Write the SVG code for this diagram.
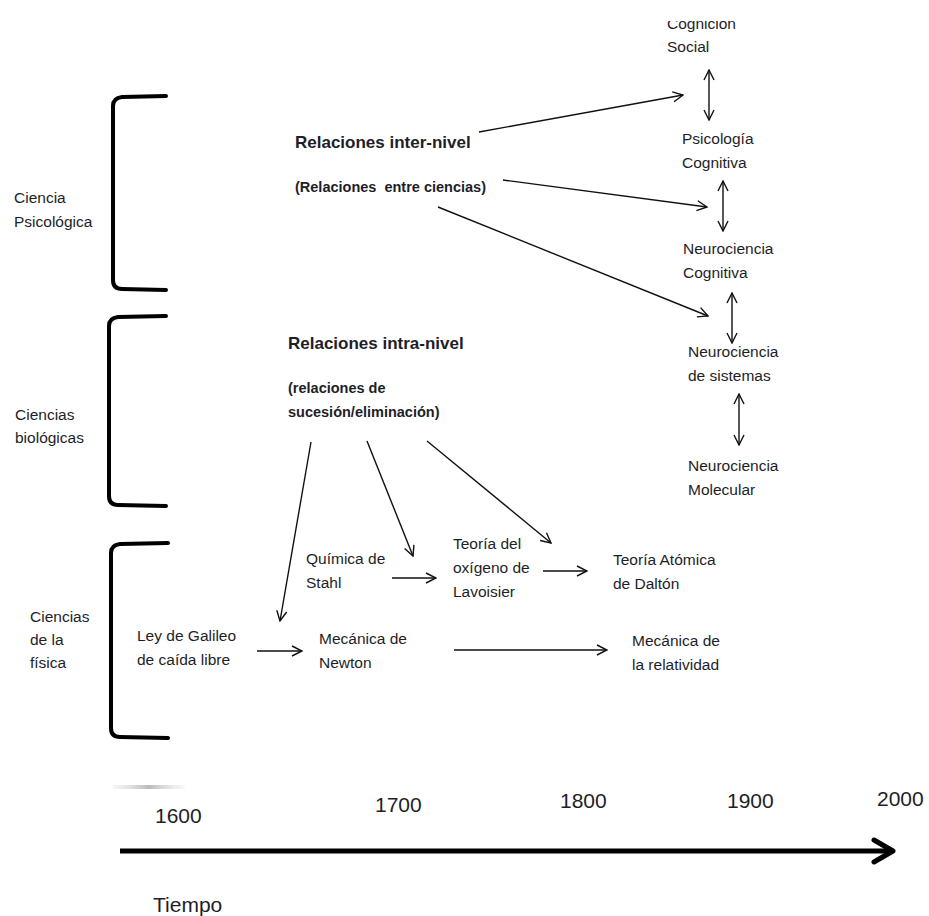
<svg xmlns="http://www.w3.org/2000/svg" width="929" height="916" viewBox="0 0 929 916">
<defs>
<style>
text{font-family:"Liberation Sans","Noto Sans",sans-serif;fill:#1e1e28;font-size:15.5px}
.b{font-weight:bold;font-size:17px}
.bs{font-weight:bold;font-size:14.5px}
.yr{font-size:21px}
.br{fill:none;stroke:#000;stroke-width:4;stroke-linecap:round;stroke-linejoin:round}
.ar{fill:none;stroke:#111;stroke-width:1.4}
</style>
<marker id="a" viewBox="0 0 12 12" refX="11" refY="6" markerWidth="12" markerHeight="12" markerUnits="userSpaceOnUse" orient="auto-start-reverse">
<path d="M1,1 L11,6 L1,11" fill="none" stroke="#111" stroke-width="1.4"/>
</marker>
<marker id="big" viewBox="0 0 26 28" refX="23" refY="14" markerWidth="26" markerHeight="28" markerUnits="userSpaceOnUse" orient="auto">
<path d="M4,3 L23,14 L4,25" fill="none" stroke="#000" stroke-width="5" stroke-linecap="round" stroke-linejoin="round"/>
</marker>
<clipPath id="topclip"><rect x="0" y="21" width="929" height="895"/></clipPath>
<linearGradient id="sh" x1="0" y1="0" x2="1" y2="0">
<stop offset="0" stop-color="#ddd" stop-opacity="0.3"/><stop offset="0.5" stop-color="#bbb"/><stop offset="1" stop-color="#ddd" stop-opacity="0.2"/>
</linearGradient>
</defs>
<rect width="929" height="916" fill="#fff"/>

<g id="brackets">
<path class="br" d="M166,96 L122,97 Q113,98 113,106 L113,280 Q113,289 122,289 L166,290"/>
<path class="br" d="M166,316 L118,317 Q109,318 109,326 L109,496 Q109,505 118,505 L166,506"/>
<path class="br" d="M168,543 L120,544 Q111,545 111,553 L111,728 Q111,737 120,737 L168,738"/>
<rect x="113" y="785" width="72" height="4" fill="url(#sh)"/>
</g>

<g id="lbl-psico"><text x="14" y="203">Ciencia</text><text x="14" y="227">Psicológica</text></g>
<g id="lbl-bio"><text x="15" y="420">Ciencias</text><text x="15" y="443">biológicas</text></g>
<g id="lbl-fis"><text x="30" y="622">Ciencias</text><text x="30" y="645">de la</text><text x="30" y="668">física</text></g>

<g id="inter"><text class="b" x="295" y="148">Relaciones inter-nivel</text><text class="bs" x="295" y="192" xml:space="preserve">(Relaciones  entre ciencias)</text></g>
<g id="intra"><text class="b" x="288" y="349">Relaciones intra-nivel</text><text class="bs" x="288" y="393">(relaciones de</text><text class="bs" x="288" y="417">sucesión/eliminación)</text></g>

<g id="cog-social" clip-path="url(#topclip)"><text x="667" y="29">Cognición</text><text x="667" y="52">Social</text></g>
<g id="psi-cog"><text x="682" y="144">Psicología</text><text x="682" y="168">Cognitiva</text></g>
<g id="neuro-cog"><text x="683" y="254">Neurociencia</text><text x="683" y="278">Cognitiva</text></g>
<g id="neuro-sis"><text x="688" y="357">Neurociencia</text><text x="688" y="381">de sistemas</text></g>
<g id="neuro-mol"><text x="688" y="471">Neurociencia</text><text x="688" y="495">Molecular</text></g>

<g id="stahl"><text x="306" y="564">Química de</text><text x="306" y="588">Stahl</text></g>
<g id="lavoisier"><text x="453" y="549">Teoría del</text><text x="453" y="573">oxígeno de</text><text x="453" y="597">Lavoisier</text></g>
<g id="dalton"><text x="613" y="565">Teoría Atómica</text><text x="613" y="589">de Daltón</text></g>
<g id="galileo"><text x="137" y="641">Ley de Galileo</text><text x="137" y="665">de caída libre</text></g>
<g id="newton"><text x="319" y="644">Mecánica de</text><text x="319" y="668">Newton</text></g>
<g id="relatividad"><text x="632" y="646">Mecánica de</text><text x="632" y="670">la relatividad</text></g>

<g id="connectors">
<line class="ar" x1="709" y1="70" x2="709" y2="120" marker-start="url(#a)" marker-end="url(#a)"/>
<line class="ar" x1="723" y1="181" x2="723" y2="231" marker-start="url(#a)" marker-end="url(#a)"/>
<line class="ar" x1="732" y1="293" x2="732" y2="343" marker-start="url(#a)" marker-end="url(#a)"/>
<line class="ar" x1="739" y1="394" x2="739" y2="445" marker-start="url(#a)" marker-end="url(#a)"/>
<line class="ar" x1="479" y1="132" x2="683" y2="95" marker-end="url(#a)"/>
<line class="ar" x1="503" y1="180" x2="707" y2="207" marker-end="url(#a)"/>
<line class="ar" x1="438" y1="207" x2="708" y2="316" marker-end="url(#a)"/>
<line class="ar" x1="311" y1="442" x2="280" y2="621" marker-end="url(#a)"/>
<line class="ar" x1="367" y1="441" x2="413" y2="556" marker-end="url(#a)"/>
<line class="ar" x1="427" y1="441" x2="551" y2="543" marker-end="url(#a)"/>
<line class="ar" x1="392" y1="578" x2="436" y2="578" marker-end="url(#a)"/>
<line class="ar" x1="543" y1="571" x2="587" y2="571" marker-end="url(#a)"/>
<line class="ar" x1="257" y1="651" x2="302" y2="651" marker-end="url(#a)"/>
<line class="ar" x1="454" y1="650" x2="607" y2="650" marker-end="url(#a)"/>
</g>

<g id="timeline">
<line x1="120" y1="851" x2="893" y2="851" stroke="#000" stroke-width="5" marker-end="url(#big)"/>
<text class="yr" x="155" y="823">1600</text>
<text class="yr" x="375" y="812">1700</text>
<text class="yr" x="560" y="808">1800</text>
<text class="yr" x="727" y="808">1900</text>
<text class="yr" x="877" y="806">2000</text>
<text class="yr" x="153" y="912">Tiempo</text>
</g>
</svg>
